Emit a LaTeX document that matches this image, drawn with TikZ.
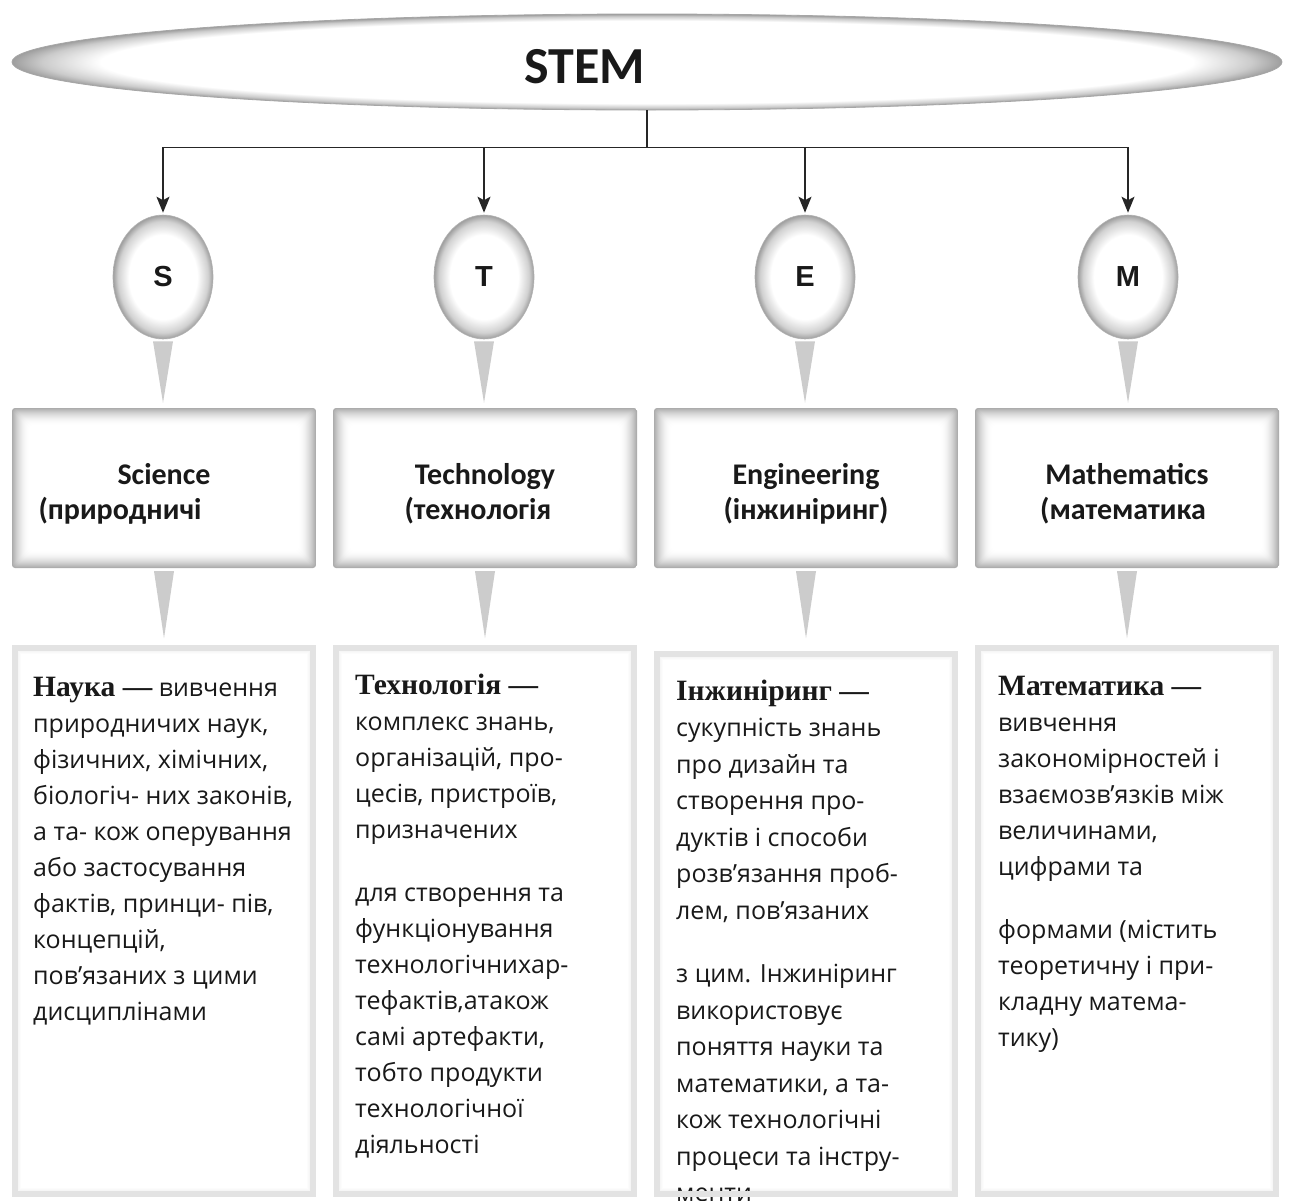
\documentclass[tikz,border=0pt]{standalone}
\usepackage{fontspec}
\setmainfont{Open Sans}
\newfontfamily\bodyfont{Open Sans}
\newfontfamily\labfont{Carlito}
\newfontfamily\letfont{Liberation Sans}
\newfontfamily\headfont{Liberation Serif}
\usetikzlibrary{shapes.geometric,arrows.meta,calc}
\definecolor{rimgray}{gray}{0.55}
\definecolor{txt}{gray}{0.1}
\pgfdeclareradialshading{rimbig}{\pgfpoint{0bp}{0bp}}{color(0bp)=(white); color(21.5bp)=(white); color(23.8bp)=(rimgray!45); color(25bp)=(rimgray!85); color(50bp)=(rimgray!85)}
\pgfdeclareradialshading{rimsmall}{\pgfpoint{0bp}{0bp}}{color(0bp)=(white); color(17bp)=(white); color(22.5bp)=(rimgray!40); color(25bp)=(rimgray!85); color(50bp)=(rimgray!85)}
\begin{document}
\begin{tikzpicture}[x=1pt,y=-1pt,
  conn/.style={line width=1.3pt, draw=black!85},
  arr/.style={conn, -{Stealth[length=16pt,width=13pt,inset=3.5pt]}, shorten >=2pt},
  bigell/.style={ellipse, minimum width=1270pt, minimum height=96pt, inner sep=0pt, shade, shading=rimbig, draw=gray!70, line width=0.8pt},
  stemtxt/.style={inner sep=0pt, font=\labfont\bfseries\fontsize{52}{60}\selectfont, text=txt},
  letter/.style={ellipse, minimum width=100pt, minimum height=124pt, inner sep=0pt, shade, shading=rimsmall, draw=gray!60, line width=0.6pt, font=\letfont\bfseries\fontsize{29}{29}\selectfont, text=txt},
  midbox/.style={rectangle, rounded corners=3pt, minimum width=304pt, minimum height=160pt, inner sep=0pt,
    path picture={
      \foreach \i in {0,...,18}{
        \pgfmathsetmacro\pp{65*(1-\i/18)^2}
        \fill[gray!\pp!white] ($(path picture bounding box.south west)+(\i*1pt,\i*1pt)$) rectangle ($(path picture bounding box.north east)-(\i*1pt,\i*1pt)$);
      }}},
  midlabel/.style={inner sep=0pt, align=center, text=txt, font=\labfont\bfseries\fontsize{30}{35}\selectfont},
  lowbox/.style={rectangle, inner sep=0pt, minimum width=298pt,
    path picture={
      \foreach \i in {0,...,6}{
        \pgfmathsetmacro\pp{14*(1-\i/6)}
        \fill[gray!\pp!white] ($(path picture bounding box.south west)+(\i*1pt,\i*1pt)$) rectangle ($(path picture bounding box.north east)-(\i*1pt,\i*1pt)$);
      }}},
  lowborder/.style={draw=gray!22, line width=6pt},
  ptr/.style={fill=gray!40},
  desc/.style={anchor=base west, inner sep=0pt, text=txt},
]
\clip (0,0) rectangle (1289,1200);
\fill[white] (0,0) rectangle (1289,1200);

% lower boxes
\node[lowbox, minimum height=546pt] (bS) at (164,921) {};
\node[lowbox, minimum height=546pt] (bT) at (485,921) {};
\node[lowbox, minimum height=540pt] (bE) at (806,924) {};
\node[lowbox, minimum height=546pt] (bM) at (1127,921) {};

% texts
\node[desc, font=\bodyfont\fontsize{25}{36}\selectfont] (tS) at (33,696) {\parbox[t]{400pt}{\raggedright
{\headfont\bfseries\fontsize{29.5}{36}\selectfont Наука —} вивчення\\
природничих наук,\\
фізичних, хімічних,\\
біологіч- них законів,\\
а та- кож оперування\\
або застосування\\
фактів, принци- пів,\\
концепцій,\\
пов’язаних з цими\\
дисциплінами}};

\node[desc, font=\bodyfont\fontsize{25}{36}\selectfont] (tT) at (355,694) {\parbox[t]{400pt}{\raggedright
{\headfont\bfseries\fontsize{29.5}{36}\selectfont Технологія —}\\
комплекс знань,\\
організацій, про-\\
цесів, пристроїв,\\
призначених\\[27pt]
для створення та\\
функціонування\\
технологічнихар-\\
тефактів,атакож\\
самі артефакти,\\
тобто продукти\\
технологічної\\
діяльності}};

\node[desc, font=\bodyfont\fontsize{25}{36.5}\selectfont] (tE) at (676,700) {\parbox[t]{400pt}{\raggedright
{\headfont\bfseries\fontsize{29.5}{36.5}\selectfont Інжиніринг —}\\
сукупність знань\\
про дизайн та\\
створення про-\\
дуктів і способи\\
розв’язання проб-\\
лем, пов’язаних\\[27pt]
з цим. Інжиніринг\\
використовує\\
поняття науки та\\
математики, а та-\\
кож технологічні\\
процеси та інстру-\\
менти}};

\node[desc, font=\bodyfont\fontsize{25}{36}\selectfont] (tM) at (998,695) {\parbox[t]{400pt}{\raggedright
{\headfont\bfseries\fontsize{29.5}{36}\selectfont Математика —}\\
вивчення\\
закономірностей і\\
взаємозв’язків між\\
величинами,\\
цифрами та\\[27pt]
формами (містить\\
теоретичну і при-\\
кладну матема-\\
тику)}};

\foreach \b in {bS,bT,bE,bM}
  \draw[lowborder] (\b.south west) rectangle (\b.north east);

% middle boxes
\node[midbox] (mS) at (164,488) {};
\node[midbox] (mT) at (485,488) {};
\node[midbox] (mE) at (806,488) {};
\node[midbox] (mM) at (1127,488) {};
\node[midlabel] (lS) at ($(mS.center)+(0,6)$) {Science\\(природничі\hspace*{88pt}};
\node[midlabel] (lT) at ($(mT.center)+(0,6)$) {Technology\\(технологія\hspace*{14pt}};
\node[midlabel] (lE) at ($(mE.center)+(0,6)$) {Engineering\\(інжиніринг)};
\node[midlabel] (lM) at ($(mM.center)+(0,6)$) {Mathematics\\(математика\hspace*{8pt}};

% letter ellipses
\node[letter] (cS) at (163,277) {S};
\node[letter] (cT) at (484,277) {T};
\node[letter] (cE) at (805,277) {E};
\node[letter] (cM) at (1128,277) {M};

% top ellipse
\node[bigell] (stem) at (647,62) {};
\node[stemtxt] (stemlabel) at (585,67) {STEM};

% connectors
\path (stem.south) ++(0,37) coordinate (hub);
\draw[conn] (stem.south) -- (hub);
\draw[conn] (cS.north |- hub) -- (cM.north |- hub);
\foreach \c in {cS,cT,cE,cM}
  \draw[arr] (\c.north |- hub) -- (\c.north);

% pointers
\foreach \c/\m in {cS/mS,cT/mT,cE/mE,cM/mM}{
  \fill[ptr] ($(\c.south)+(-10pt,-2pt)$) -- ($(\c.south)+(10pt,-2pt)$) -- ($(\c.south |- \m.north)+(0,5pt)$) -- cycle;
  \fill[ptr] ($(\m.south)+(-10pt,-3pt)$) -- ($(\m.south)+(10pt,-3pt)$) -- ($(\m.south)+(0,-70pt)$) -- cycle;
}
\end{tikzpicture}
\end{document}
